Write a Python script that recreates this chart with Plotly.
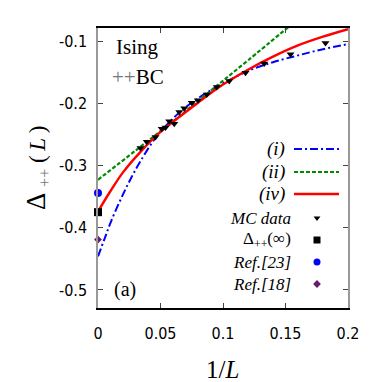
import plotly.graph_objects as go

# fit curves
fit_i_x = [0, 0.005, 0.010, 0.018, 0.026, 0.034, 0.047, 0.065, 0.08, 0.1, 0.12, 0.14, 0.16, 0.18, 0.2]
fit_i_y = [-0.446, -0.419, -0.392, -0.355, -0.322, -0.293, -0.253, -0.215, -0.192, -0.168, -0.148, -0.134, -0.123, -0.113, -0.105]

fit_ii_x = [0, 0.03, 0.06, 0.09, 0.12, 0.155]
fit_ii_y = [-0.323, -0.276, -0.229, -0.180, -0.131, -0.073]

fit_iv_x = [0, 0.01, 0.02, 0.034, 0.05, 0.065, 0.08, 0.1, 0.12, 0.14, 0.16, 0.18, 0.2]
fit_iv_y = [-0.374, -0.341, -0.311, -0.278, -0.246, -0.222, -0.199, -0.170, -0.146, -0.125, -0.107, -0.093, -0.081]

# Monte Carlo points
mc_x = [0.034, 0.039, 0.046, 0.051, 0.054, 0.057, 0.061, 0.065, 0.069, 0.075, 0.080, 0.087, 0.095, 0.105, 0.118, 0.133, 0.154, 0.182]
mc_y = [-0.272, -0.262, -0.254, -0.241, -0.239, -0.229, -0.233, -0.214, -0.208, -0.199, -0.195, -0.186, -0.174, -0.164, -0.151, -0.136, -0.121, -0.103]

# values at 1/L = 0
inf_y = -0.375
ref23_y = -0.344
ref18_y = -0.419

x_ticks = [0, 0.05, 0.1, 0.15, 0.2]
x_ticktext = ['0', '0.05', '0.1', '0.15', '0.2']
y_ticks = [-0.1, -0.2, -0.3, -0.4, -0.5]
y_ticktext = ['-0.1', '-0.2', '-0.3', '-0.4', '-0.5']

blue = '#0000ff'
green = '#008a00'
red = '#ff0000'
purple = '#6b1a6b'

fig = go.Figure()

fig.add_trace(go.Scatter(x=fit_i_x, y=fit_i_y, mode='lines', line=dict(color=blue, width=2, dash='8px,3px,2px,3px', shape='spline')))
fig.add_trace(go.Scatter(x=fit_ii_x, y=fit_ii_y, mode='lines', line=dict(color=green, width=2.2, dash='4px,2px', shape='spline')))
fig.add_trace(go.Scatter(x=fit_iv_x, y=fit_iv_y, mode='lines', line=dict(color=red, width=2.4, shape='spline')))
fig.add_trace(go.Scatter(x=mc_x, y=mc_y, mode='markers', cliponaxis=False,
                         marker=dict(symbol='triangle-down', color='black', size=7)))
fig.add_trace(go.Scatter(x=[0], y=[inf_y], mode='markers', cliponaxis=False,
                         marker=dict(symbol='square', color='black', size=8)))
fig.add_trace(go.Scatter(x=[0], y=[ref23_y], mode='markers', cliponaxis=False,
                         marker=dict(symbol='circle', color=blue, size=8)))
fig.add_trace(go.Scatter(x=[0], y=[ref18_y], mode='markers', cliponaxis=False,
                         marker=dict(symbol='diamond', color=purple, size=6)))

# legend keys on a hidden overlay axis in screen pixels
legend_rows = [
    ('<i>(i)</i>', 149, 'line', dict(color=blue, width=2, dash='8px,3px,2px,3px'), 19),
    ('<i>(ii)</i>', 172, 'line', dict(color=green, width=2.2, dash='4px,2px'), 19),
    ('<i>(iv)</i>', 194, 'line', dict(color=red, width=2.4), 19),
    ('<i>MC data</i>', 218, 'triangle-down', 'black', 17),
    ('Δ<sub>++</sub>(∞)', 240, 'square', 'black', 17),
    ('<i>Ref.[23]</i>', 262, 'circle', blue, 17),
    ('<i>Ref.[18]</i>', 284, 'diamond', purple, 17),
]
for label, py, kind, style, fs in legend_rows:
    if kind == 'line':
        fig.add_trace(go.Scatter(x=[294, 339], y=[py, py], mode='lines', line=style,
                                 xaxis='x2', yaxis='y2'))
    else:
        size = {'triangle-down': 6, 'square': 7, 'circle': 7, 'diamond': 6}[kind]
        fig.add_trace(go.Scatter(x=[317], y=[py], mode='markers', xaxis='x2', yaxis='y2',
                                 marker=dict(symbol=kind, color=style, size=size)))
    fig.add_annotation(x=287 if kind == 'line' else 293, y=py, xref='x2', yref='y2', text=label,
                       showarrow=False, xanchor='right', yanchor='middle',
                       font=dict(family='Liberation Serif', size=fs, color='black'))

tick_font = dict(family='Liberation Sans Narrow, DejaVu Sans Condensed, Liberation Sans', size=16, color='black')

# page body has an 8px margin, so the figure is laid out 8px in from the window edge
fig.update_layout(
    width=374, height=382,
    margin=dict(l=90, r=34, t=20, b=82),
    paper_bgcolor='white', plot_bgcolor='white',
    showlegend=False,
    xaxis=dict(range=[0, 0.2], tickvals=x_ticks, ticktext=x_ticktext, ticks='inside', ticklen=5,
               linecolor='black', linewidth=1.5, mirror='ticks', showgrid=False, zeroline=False,
               tickfont=tick_font, ticklabelstandoff=10, automargin=False),
    yaxis=dict(range=[-0.529, -0.079], tickvals=y_ticks, ticktext=y_ticktext, ticks='inside', ticklen=5,
               linecolor='#999999', linewidth=1.5, mirror='ticks', showgrid=False, zeroline=False,
               tickfont=tick_font, ticklabelstandoff=6, automargin=False),
    xaxis2=dict(range=[98, 348], overlaying='x', visible=False, fixedrange=True),
    yaxis2=dict(range=[308, 28], overlaying='y', visible=False, fixedrange=True),
    annotations=list(fig.layout.annotations) + [
        dict(x=137, y=47, xref='x2', yref='y2', text='Ising', showarrow=False,
             font=dict(family='Liberation Serif', size=21, color='black')),
        dict(x=138, y=77, xref='x2', yref='y2', text='<span style="color:#777">++</span>BC', showarrow=False,
             font=dict(family='Liberation Serif', size=21, color='black')),
        dict(x=125, y=289, xref='x2', yref='y2', text='(a)', showarrow=False,
             font=dict(family='Liberation Serif', size=20, color='black')),
        dict(x=(222 - 98) / 250, y=(308 - 369) / 280, xref='paper', yref='paper', text='1/<i>L</i>',
             xanchor='center', yanchor='middle', showarrow=False,
             font=dict(family='Liberation Serif', size=25, color='black')),
        dict(x=(37 - 98) / 250, y=(308 - 168) / 280, xref='paper', yref='paper',
             text='<span style="font-size:27px">Δ</span> <sub><span style="color:#777">++</span></sub> (\u2009<i>L</i>\u2009)',
             xanchor='center', yanchor='middle', showarrow=False, textangle=-90,
             font=dict(family='Liberation Serif', size=23, color='black')),
    ],
)

fig.write_html("out.html")
